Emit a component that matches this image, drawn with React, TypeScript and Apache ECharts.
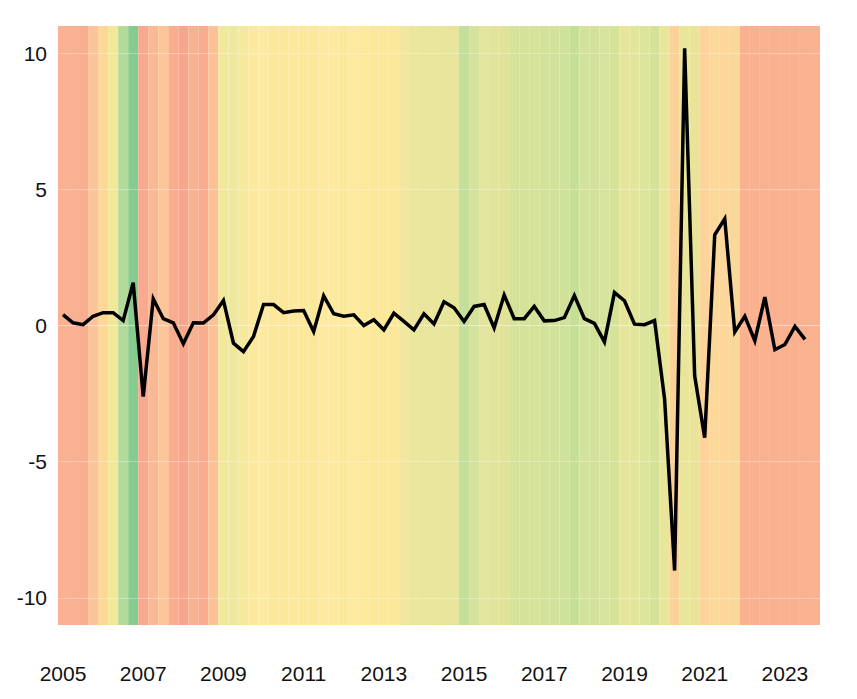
import React, { useEffect, useRef } from "react";
import * as echarts from "echarts";

const quarters: string[] = [];
for (let y = 2005; y <= 2023; y++) for (let q = 1; q <= 4; q++) quarters.push(`${y}Q${q}`);

const growth: number[] = [
  0.40, 0.10, 0.03, 0.34, 0.47, 0.47, 0.18, 1.57, -2.61, 0.98,
  0.25, 0.10, -0.67, 0.10, 0.09, 0.39, 0.92, -0.65, -0.96, -0.40,
  0.77, 0.77, 0.47, 0.53, 0.55, -0.22, 1.09, 0.43, 0.34, 0.39,
  0.00, 0.21, -0.16, 0.45, 0.15, -0.16, 0.43, 0.06, 0.87, 0.65,
  0.15, 0.70, 0.77, -0.09, 1.12, 0.25, 0.25, 0.70, 0.17, 0.18,
  0.29, 1.10, 0.25, 0.08, -0.60, 1.21, 0.91, 0.05, 0.03, 0.18,
  -2.70, -9.00, 10.18, -1.85, -4.12, 3.33, 3.92, -0.24, 0.34, -0.56,
  1.04, -0.89, -0.70, -0.03, -0.51,
];

const bandColors: string[] = [
  "#F9B192", "#F9B192", "#F9AE8F", "#FBC49A", "#FDD797", "#F2E898", "#B3DA9A", "#86CC8E",
  "#F8A990", "#FAB894", "#FCC699", "#F9AD8E", "#F8A68B", "#F9B191", "#F9AC8E", "#FBC297",
  "#F2E89C", "#EEE89E", "#F4E99C", "#FDE99C", "#FEEA9E", "#FDE89A", "#FDE89A", "#FDE89B",
  "#FDE89A", "#FDE89A", "#FEEA9E", "#FEEA9E", "#FDE99C", "#FDEA9E", "#FDE99A", "#FDE89A",
  "#FDE899", "#FDE89A", "#F1E79E", "#EDE79E", "#E8E69C", "#EAE79C", "#E8E69B", "#E6E59B",
  "#C4DF9C", "#D5E29C", "#E3E59E", "#E3E49C", "#E2E39B", "#D5E29A", "#D4E29A", "#D4E29A",
  "#D3E29A", "#D3E29A", "#D0E29A", "#C6DF97", "#D3E29B", "#D3E29B", "#D6E39C", "#D4E29A",
  "#E6E59B", "#E2E59C", "#DDE49B", "#D6E29A", "#E8E69A", "#FAD199", "#E9E69B", "#E9E49A",
  "#FCD39A", "#FCD89A", "#FCD69A", "#FAD79A", "#F9B190", "#F9B190", "#F9B190", "#F9B190",
  "#F9B190", "#F9B190", "#F9B190", "#F9B190",
];

const yTicks: number[] = [-10, -5, 0, 5, 10];
const Y_MIN = -11;
const Y_MAX = 11;

export default function App() {
  const ref = useRef<HTMLDivElement>(null);
  useEffect(() => {
    if (!ref.current) return;
    const chart = echarts.init(ref.current, undefined, { renderer: "svg" });
    const font = "'Liberation Sans', Arial, sans-serif";
    chart.setOption({
      animation: false,
      backgroundColor: "#ffffff",
      grid: { left: 58, right: 37, top: 26, bottom: 74 },
      xAxis: {
        type: "category",
        data: quarters,
        boundaryGap: true,
        axisLine: { show: false },
        axisTick: { show: false },
        splitLine: { show: false },
        axisLabel: {
          interval: (idx: number) => idx % 8 === 0,
          formatter: (v: string) => v.slice(0, 4),
          color: "#111111",
          fontSize: 21,
          fontFamily: font,
          margin: 38,
        },
      },
      yAxis: {
        type: "value",
        min: Y_MIN,
        max: Y_MAX,
        interval: 1,
        axisLine: { show: false },
        axisTick: { show: false },
        splitLine: { show: false },
        axisLabel: {
          formatter: (v: number) => (yTicks.includes(v) ? String(v) : ""),
          color: "#111111",
          fontSize: 21,
          fontFamily: font,
          margin: 11,
        },
      },
      series: [
        {
          type: "bar",
          stack: "bg",
          silent: true,
          barCategoryGap: "0%",
          data: bandColors.map((c) => ({ value: Y_MAX, itemStyle: { color: c } })),
          z: 1,
        },
        {
          type: "bar",
          stack: "bg",
          silent: true,
          barCategoryGap: "0%",
          data: bandColors.map((c) => ({ value: Y_MIN, itemStyle: { color: c } })),
          z: 1,
          markLine: {
            silent: true,
            symbol: "none",
            label: { show: false },
            lineStyle: { color: "rgba(255,255,255,0.3)", width: 1, type: "solid" },
            data: yTicks.map((t) => ({ yAxis: t })),
          },
        },
        {
          type: "line",
          data: growth,
          symbol: "none",
          z: 5,
          lineStyle: { color: "#000000", width: 3.5, join: "miter" },
        },
      ],
    });
    return () => chart.dispose();
  }, []);
  return (
    <div
      ref={ref}
      style={{ position: "fixed", left: 0, top: 0, width: 857, height: 699 }}
    />
  );
}
